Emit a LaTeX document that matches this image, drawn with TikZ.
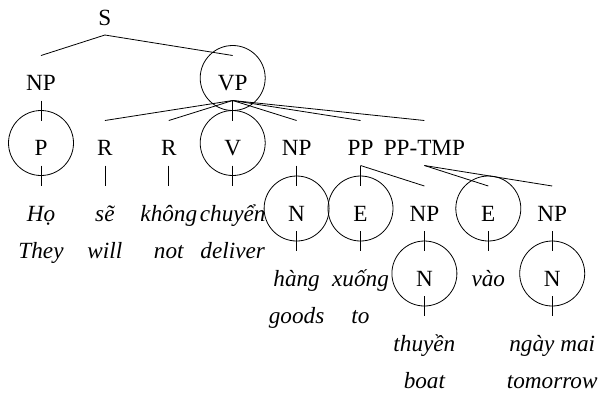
\documentclass[tikz,border=0pt]{standalone}
\usepackage{fontspec}
\setmainfont{Liberation Serif}
\usetikzlibrary{positioning}

\begin{document}
\begin{tikzpicture}[x=0.5pt, y=-0.5pt,
    cat/.style={inner sep=0pt, outer sep=0pt, text height=17.5pt, text depth=5pt, anchor=base, font=\fontsize{11.6}{14}\selectfont},
    word/.style={cat, font=\fontsize{11.6}{14}\selectfont\itshape},
    gloss/.style={inner sep=0pt, anchor=base, font=\fontsize{11.6}{14}\selectfont\itshape},
    ring/.style={draw, circle, minimum size=32.5pt, inner sep=0pt}]
    \useasboundingbox (0,0) rectangle (598,392);

    % Livelli superiori
    \node[cat] (s) at (104.9,25) {S};
    \node[cat] (np1) at (41,90.5) {NP};
    \node[cat] (vp) at (232.7,90.5) {VP};

    % Figli di NP e VP
    \node[cat] (p) at (41,155.5) {P};
    \node[cat] (r1) at (104.9,155.5) {R};
    \node[cat] (r2) at (168.8,155.5) {R};
    \node[cat] (v) at (232.7,155.5) {V};
    \node[cat] (np2) at (296.6,155.5) {NP};
    \node[cat] (pp) at (360.5,155.5) {PP};
    \node[cat] (pptmp) at (424.4,155.5) {PP-TMP};

    % Parole e categorie del quarto livello
    \node[word] (ho) at (41,221) {Họ};
    \node[word] (se) at (104.9,221) {sẽ};
    \node[word] (khong) at (168.8,221) {không};
    \node[word] (chuyen) at (232.7,221) {chuyển};
    \node[cat] (n1) at (296.6,221) {N};
    \node[cat] (e1) at (360.5,221) {E};
    \node[cat] (np3) at (424.4,221) {NP};
    \node[cat] (e2) at (488.3,221) {E};
    \node[cat] (np4) at (552.2,221) {NP};

    % Quinto livello
    \node[word] (hang) at (296.6,286) {hàng};
    \node[word] (xuong) at (360.5,286) {xuống};
    \node[cat] (n2) at (424.4,286) {N};
    \node[word] (vao) at (488.3,286) {vào};
    \node[cat] (n3) at (552.2,286) {N};

    % Ultimo livello
    \node[word] (thuyen) at (424.4,351) {thuyền};
    \node[word] (ngaymai) at (552.2,351) {ngày mai};

    % Traduzioni
    \node[gloss] (they) at (41,258) {They};
    \node[gloss] (will) at (104.9,258) {will};
    \node[gloss] (not) at (168.8,258) {not};
    \node[gloss] (deliver) at (232.7,258) {deliver};
    \node[gloss] (goods) at (296.6,323) {goods};
    \node[gloss] (to) at (360.5,323) {to};
    \node[gloss] (boat) at (424.4,388) {boat};
    \node[gloss] (tomorrow) at (552.2,388) {tomorrow};

    % Rami
    \foreach \a/\b in {s/np1, s/vp, np1/p, vp/r1, vp/r2, vp/v, vp/np2, vp/pp, vp/pptmp,
        p/ho, r1/se, r2/khong, v/chuyen, np2/n1, pp/e1, pp/np3, pptmp/e2, pptmp/np4,
        n1/hang, e1/xuong, np3/n2, e2/vao, np4/n3, n2/thuyen, n3/ngaymai} {
        \draw (\a.south) -- (\b.north);
    }

    % Cerchi
    \foreach \n in {vp, p, v, n1, e1, n2, e2, n3} {
        \node[ring] at (\n.center) {};
    }
\end{tikzpicture}
\end{document}
